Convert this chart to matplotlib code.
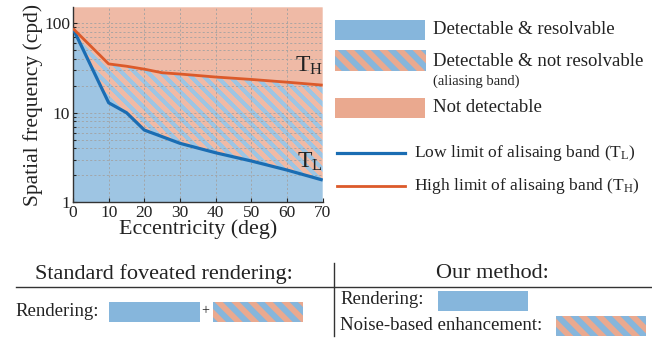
import numpy as np
import matplotlib
matplotlib.use("Agg")
import matplotlib.pyplot as plt
from matplotlib.patches import Rectangle
from matplotlib.ticker import LogLocator, NullFormatter, FixedLocator

plt.rcParams["font.family"] = ["Liberation Serif", "DejaVu Serif"]
plt.rcParams["mathtext.fontset"] = "custom"
plt.rcParams["mathtext.rm"] = "Liberation Serif"
plt.rcParams["mathtext.it"] = "Liberation Serif:italic"
plt.rcParams["hatch.linewidth"] = 4.2

# data
ecc = [0, 10, 15, 20, 25, 30, 40, 50, 60, 70]
t_high = [87, 35, 33, 30.6, 27.9, 27, 25, 23.5, 21.9, 20.3]
t_low = [87, 12.9, 10, 6.4, 5.4, 4.55, 3.57, 2.89, 2.29, 1.77]
x_ticks = [0, 10, 20, 30, 40, 50, 60, 70]
y_ticks = [1, 10, 100]
y_range = (1, 150)

legend_labels = [
    "Detectable & resolvable",
    "Detectable & not resolvable",
    "Not detectable",
]
line_labels = [
    r"Low limit of alisaing band ($\mathrm{T}_\mathrm{L}$)",
    r"High limit of alisaing band ($\mathrm{T}_\mathrm{H}$)",
]

BLUE = "#86b6dc"
PINK = "#eaa98f"
PLOT_BLUE = "#9ec5e3"
PLOT_PINK = "#efbaa6"
LINE_BLUE = "#1a6db3"
LINE_ORANGE = "#dc5a2a"
TEXT = "#222222"

W, H = 652, 339
fig = plt.figure(figsize=(W / 100, H / 100), dpi=100)

# main axes (pixel box 73..322.7 x 7.3..202.3)
ax = fig.add_axes([73 / W, 1 - 202.3 / H, 249.7 / W, 195 / H])
ax.set_yscale("log")
ax.set_xlim(0, 70)
ax.set_ylim(*y_range)
ax.set_autoscale_on(False)

ax.fill_between(ecc, y_range[0], t_low, facecolor=PLOT_BLUE, edgecolor="none")
ax.fill_between(ecc, t_high, y_range[1], facecolor=PLOT_PINK, edgecolor="none")
band = ax.fill_between(ecc, t_low, t_high, facecolor="none", edgecolor="none")

# striped texture for the aliasing band, one texel per pixel, clipped to the band
ah, aw = 195, 250
period = 13
rr, cc = np.mgrid[0:ah, 0:aw]
stripe = ((cc - rr) % period) < period / 2
tex = np.empty((ah, aw, 3))
tex[stripe] = matplotlib.colors.to_rgb(PLOT_PINK)
tex[~stripe] = matplotlib.colors.to_rgb(PLOT_BLUE)
im = ax.imshow(tex, extent=[0, 1, 0, 1], transform=ax.transAxes,
               aspect="auto", zorder=1, interpolation="nearest")
im.set_clip_path(band.get_paths()[0], transform=ax.transData)
ax.set_xlim(0, 70)
ax.set_ylim(*y_range)

ax.plot(ecc, t_low, color=LINE_BLUE, lw=2.3, zorder=3, solid_capstyle="butt")
ax.plot(ecc, t_high, color=LINE_ORANGE, lw=2.0, zorder=3, solid_capstyle="butt")

ax.xaxis.set_major_locator(FixedLocator(x_ticks))
ax.yaxis.set_major_locator(FixedLocator(y_ticks))
ax.set_yticklabels([str(v) for v in y_ticks])
ax.yaxis.set_minor_locator(LogLocator(base=10, subs=np.arange(2, 10)))
ax.yaxis.set_minor_formatter(NullFormatter())
ax.grid(True, which="both", color="#a2a2a2", linestyle=(0, (2.5, 2.5)), lw=0.6)
ax.tick_params(which="both", direction="in", colors=TEXT, labelsize=12.5,
               length=3, width=0.8, pad=2)
ax.tick_params(which="minor", length=2)
for s in ["top", "right"]:
    ax.spines[s].set_visible(False)
for s in ["left", "bottom"]:
    ax.spines[s].set_color("#333333")
    ax.spines[s].set_linewidth(1.0)

ax.set_xlabel("Eccentricity (deg)", fontsize=15.8, color=TEXT, labelpad=-1)
ax.set_ylabel("Spatial frequency (cpd)", fontsize=15.5, color=TEXT, labelpad=1)
ax.text(62.2, 28.6, r"$\mathrm{T}_\mathrm{H}$", fontsize=17, color=TEXT, va="baseline")
ax.text(62.8, 2.45, r"$\mathrm{T}_\mathrm{L}$", fontsize=17, color=TEXT, va="baseline")

# overlay in pixel coordinates for legend and table
ov = fig.add_axes([0, 0, 1, 1])
ov.set_xlim(0, W)
ov.set_ylim(H, 0)
ov.axis("off")


def solid(x0, y0, x1, y1, color):
    ov.add_patch(Rectangle((x0, y0), x1 - x0, y1 - y0, facecolor=color,
                           edgecolor="none", lw=0))


def striped(x0, y0, x1, y1):
    ov.add_patch(Rectangle((x0, y0), x1 - x0, y1 - y0, facecolor=BLUE,
                           edgecolor=PINK, hatch="\\\\", lw=0))


fs = 13.5
solid(335, 20, 425, 39.5, BLUE)
ov.text(433, 30, legend_labels[0], fontsize=fs, va="center", color=TEXT)
striped(335, 50, 426, 70.5)
ov.text(433, 61, legend_labels[1], fontsize=fs, va="center", color=TEXT)
ov.text(433, 81, "(aliasing band)", fontsize=10.5, va="center", color=TEXT)
solid(335, 98, 425, 117.5, PINK)
ov.text(433, 107, legend_labels[2], fontsize=fs, va="center", color=TEXT)

ov.plot([337, 405], [152.7, 152.7], color=LINE_BLUE, lw=2.3)
ov.text(414, 153, line_labels[0], fontsize=12.6, va="center", color=TEXT)
ov.plot([337, 405], [186, 186], color=LINE_ORANGE, lw=2.0)
ov.text(414, 186, line_labels[1], fontsize=12.6, va="center", color=TEXT)

# bottom comparison table
ov.text(164, 274, "Standard foveated rendering:", fontsize=16, ha="center",
        va="center", color=TEXT)
ov.text(492, 274, "Our method:", fontsize=16, ha="center", va="center", color=TEXT)
ov.plot([15.5, W], [287, 287], color="#333333", lw=1.0)
ov.plot([334, 334], [263, 336], color="#333333", lw=1.0)

ov.text(15.5, 311, "Rendering:", fontsize=fs, va="center", color=TEXT)
solid(109, 301.7, 199.5, 321.7, BLUE)
ov.text(205, 311, "+", fontsize=10, ha="center", va="center", color=TEXT)
striped(213, 301.7, 303, 321.7)

ov.text(340, 300, "Rendering:", fontsize=fs, va="center", color=TEXT)
solid(438, 291, 528, 311, BLUE)
ov.text(340, 326, "Noise-based enhancement:", fontsize=fs, va="center", color=TEXT)
striped(556, 315.7, 646, 336)

fig.savefig("out.png", dpi=100)
